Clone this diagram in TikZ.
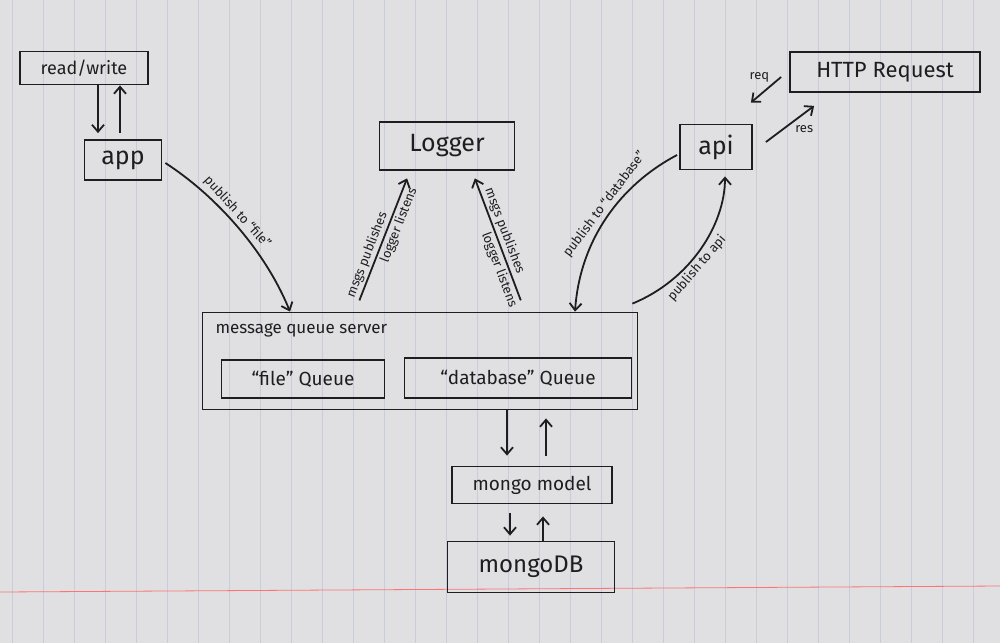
\documentclass[tikz,border=0pt]{standalone}
\usepackage{fontspec}
\setmainfont{Fira Sans}
\usetikzlibrary{arrows.meta}
\newcommand\myfs[1]{\fontsize{#1}{#1}\selectfont}
\definecolor{paper}{HTML}{E0E0E3}
\definecolor{ruleline}{HTML}{C9CCDA}
\definecolor{ink}{HTML}{1E1E1E}
\begin{document}
\begin{tikzpicture}[x=1pt,y=-1pt,
  box/.style={draw=ink, line width=1.8pt, inner sep=0pt, text=ink},
  arr/.style={draw=ink, line width=1.8pt, -{Straight Barb[length=7pt,width=12pt,line width=1.8pt]}},
  lbl/.style={font=\myfs{13}, text=ink, inner sep=2pt}]
\useasboundingbox (0,0) rectangle (1000,643);
\fill[paper] (0,0) rectangle (1000,643);
\foreach \x in {12,43,...,1000} \draw[ruleline, line width=1pt] (\x,0) -- (\x,643);
\draw[red!55, line width=0.8pt] (0,592) -- (1000,586);

% nodes
\node[box, minimum width=128, minimum height=33, font=\myfs{18}] (rw) at (84,68) {read/write};
\node[box, minimum width=77, minimum height=40, font=\myfs{25}] (app) at (123,160) {app};
\node[box, minimum width=135, minimum height=48, font=\myfs{25}] (logger) at (447,146) {Logger};
\node[box, minimum width=72, minimum height=45, font=\myfs{25}] (api) at (716,147) {api};
\node[box, minimum width=190, minimum height=40, font=\myfs{22}] (http) at (885,72) {HTTP Request};
\node[box, minimum width=435, minimum height=97] (mqs) at (420,361) {};
\node[anchor=west, font=\myfs{17}, text=ink] (mqst) at (212,330) {message queue server};
\node[box, minimum width=163, minimum height=38, font=\myfs{19}] (fileq) at (303,379) {“file” Queue};
\node[box, minimum width=227, minimum height=40, font=\myfs{19}] (dbq) at (518,378) {“database” Queue};
\node[box, minimum width=160, minimum height=37, font=\myfs{19}] (mm) at (532,485) {mongo model};
\node[box, minimum width=167, minimum height=51, font=\myfs{24}] (mdb) at (531,567) {mongoDB};

% read/write <-> app
\draw[arr, shorten >=6pt] ([xshift=14]rw.south) -- ([xshift=-25]app.north);
\draw[arr, shorten <=6pt] ([xshift=-3]app.north) -- ([xshift=36]rw.south);

% app -> message queue server
\draw[arr] ([xshift=3,yshift=-3]app.east) .. controls (215,195) and (265,250) .. ([xshift=-130]mqs.north)
  node[lbl, pos=0.45, sloped, above] {publish to “file”};

% logger arrows
\draw[arr, shorten <=12pt, shorten >=8pt] ([xshift=-65]mqs.north) -- ([xshift=-37]logger.south)
  node[lbl, pos=0.38, sloped, above] {msgs publishes}
  node[lbl, pos=0.64, sloped, below] {logger listens};
\draw[arr, shorten <=12pt, shorten >=8pt] ([xshift=105]mqs.north) -- ([xshift=25]logger.south)
  node[lbl, pos=0.55, sloped, above] {msgs publishes}
  node[lbl, pos=0.32, sloped, below] {logger listens};

% api <-> message queue server
\draw[arr] ([xshift=-2,yshift=-8]api.west) .. controls (620,185) and (580,240) .. ([xshift=155]mqs.north)
  node[lbl, pos=0.45, sloped, above] {publish to “database”};
\draw[arr, shorten >=6pt] ([xshift=-6,yshift=8]mqs.north east) .. controls (690,280) and (725,225) .. ([xshift=9]api.south)
  node[lbl, pos=0.4, sloped, below] {publish to api};

% http <-> api
\draw[arr] ([xshift=-8,yshift=-5]http.west) -- ([xshift=-2,yshift=21]api.north east)
  node[lbl, pos=0.3, above left] {req};
\draw[arr] ([xshift=13,yshift=5]api.east) -- ([xshift=25,yshift=-13]http.south west)
  node[lbl, pos=0.55, below right] {res};

% mqs <-> mongo model
\draw[arr, shorten >=10pt] ([xshift=-25]mm.north |- mqs.south) -- ([xshift=-25]mm.north);
\draw[arr, shorten <=10pt, shorten >=8pt] ([xshift=14]mm.north) -- ([xshift=14]mm.north |- mqs.south);

% mongo model <-> mongoDB
\draw[arr, shorten <=9pt, shorten >=5pt] ([xshift=-22]mm.south) -- ([xshift=-21]mdb.north);
\draw[arr, shorten >=12pt] ([xshift=12]mdb.north) -- ([xshift=11]mm.south);
\end{tikzpicture}
\end{document}
